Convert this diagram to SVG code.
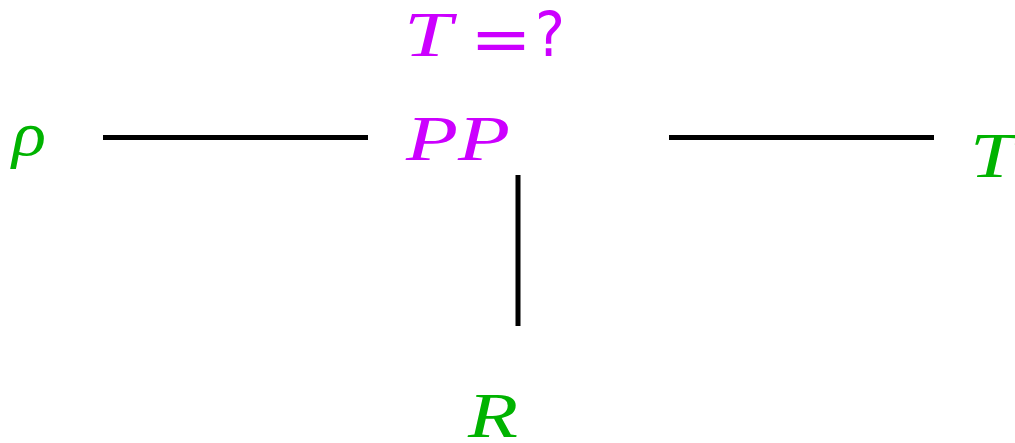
<svg xmlns="http://www.w3.org/2000/svg" width="1015" height="443" viewBox="0 0 1015 443">
<style>
.m{fill:#cc00ff;font-family:"Liberation Serif",serif;font-size:63px}
.g{fill:#00b300;font-family:"Liberation Serif",serif;font-size:63px}
.i{font-style:italic}
.s{font-family:"DejaVu Sans",sans-serif;font-style:normal}
.e{stroke:#000;stroke-width:5;fill:none}
</style>
<rect width="1015" height="443" fill="#fff"/>
<g id="connectors">
<line class="e" x1="103" y1="137.5" x2="368" y2="137.5"/>
<line class="e" x1="669" y1="137.5" x2="934" y2="137.5"/>
<line class="e" x1="518" y1="175" x2="518" y2="326"/>
</g>
<g id="query">
<text class="m i" x="404" y="56" textLength="48" lengthAdjust="spacingAndGlyphs">T</text>
<text class="m s" x="470" y="61" textLength="62" lengthAdjust="spacingAndGlyphs">=</text>
<text class="m s" x="535" y="56" font-size="57" textLength="30" lengthAdjust="spacingAndGlyphs">?</text>
</g>
<g id="PP"><text class="m i" x="406" y="160" textLength="104" lengthAdjust="spacingAndGlyphs">PP</text></g>
<g id="rho"><text class="g i" x="12" y="155" textLength="34" lengthAdjust="spacingAndGlyphs">ρ</text></g>
<g id="T"><text class="g i" x="970" y="177" textLength="45" lengthAdjust="spacingAndGlyphs">T</text></g>
<g id="R"><text class="g i" x="468" y="437" textLength="50" lengthAdjust="spacingAndGlyphs">R</text></g>
</svg>
